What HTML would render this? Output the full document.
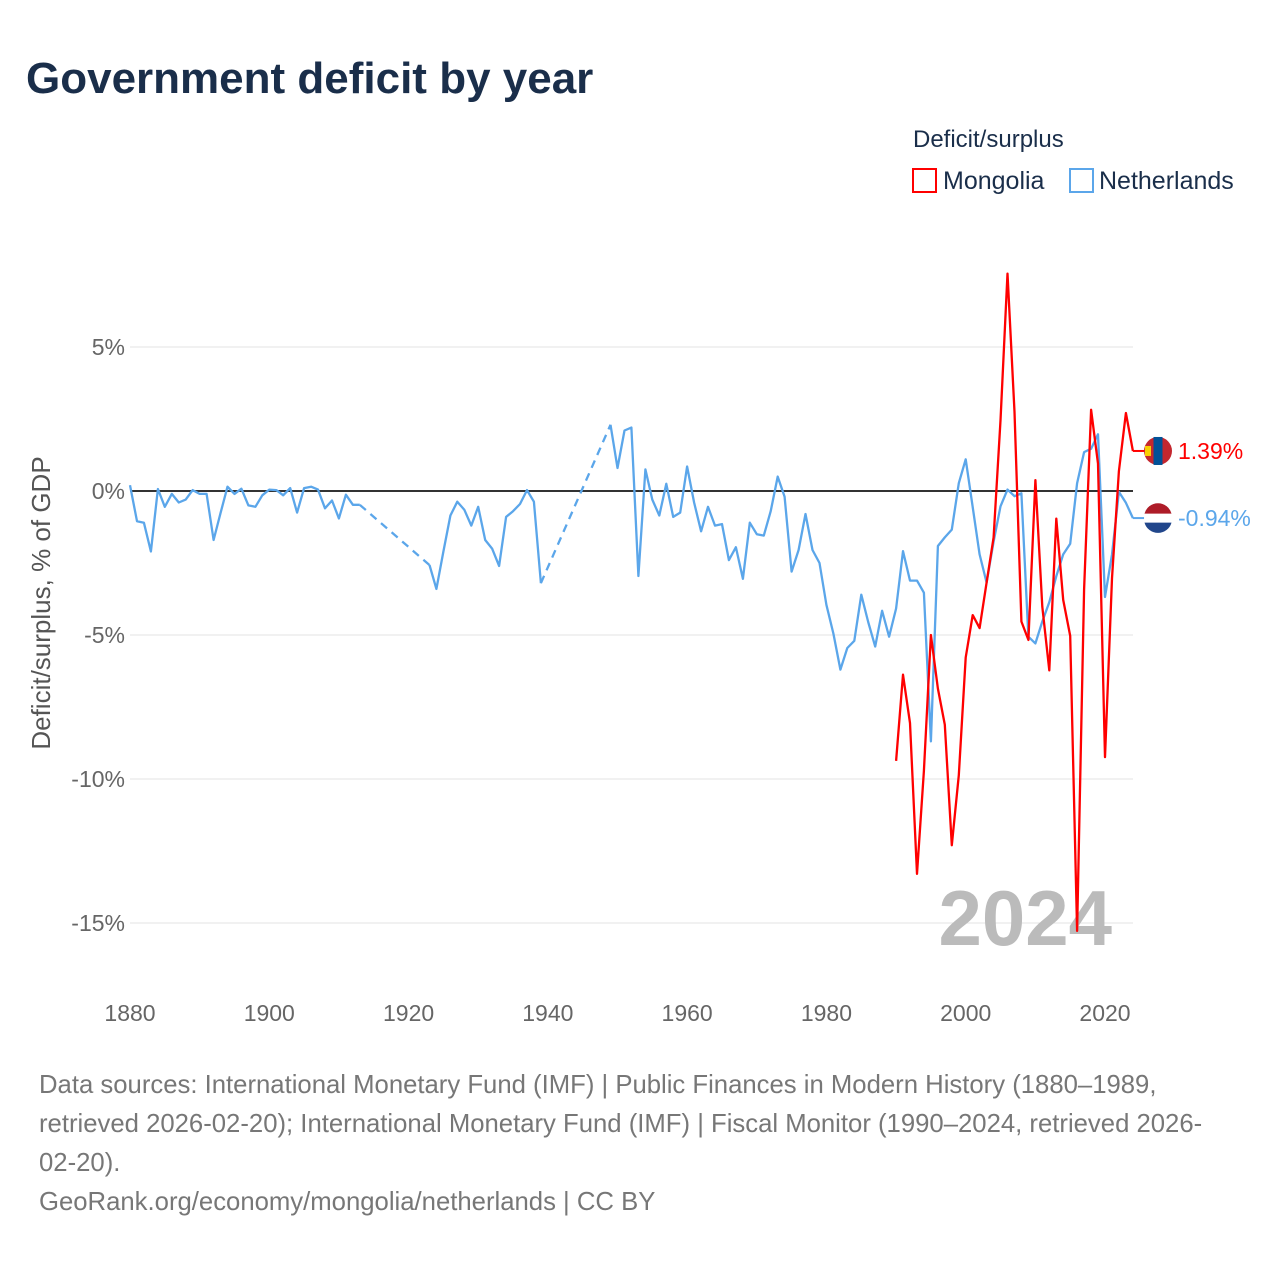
<!DOCTYPE html>
<html><head><meta charset="utf-8"><style>
body{margin:0;background:#fff;font-family:"Liberation Sans",sans-serif;}
svg text{font-family:"Liberation Sans",sans-serif;}
</style></head><body>
<svg id="chart" width="1280" height="1280" viewBox="0 0 1280 1280" xmlns="http://www.w3.org/2000/svg">
<rect width="1280" height="1280" fill="#fff"/>
<text x="26" y="93" font-size="44" font-weight="bold" fill="#1a2e4a">Government deficit by year</text>
<g>
<text x="913" y="147" font-size="24" fill="#1a2e4a">Deficit/surplus</text>
<g><rect x="913" y="169" width="23" height="23" fill="none" stroke="#ff0000" stroke-width="2"/><text x="943" y="189" font-size="25" fill="#1a2e4a">Mongolia</text></g>
<g><rect x="1070" y="169" width="23" height="23" fill="none" stroke="#5ba6ea" stroke-width="2"/><text x="1099" y="189" font-size="25" fill="#1a2e4a">Netherlands</text></g>
</g>
<g id="grid"></g>
<g id="yticks"></g>
<g id="xticks"></g>
<text x="0" y="0" transform="translate(50,603) rotate(-90)" text-anchor="middle" font-size="26" fill="#555">Deficit/surplus, % of GDP</text>
<text x="1112" y="945" text-anchor="end" font-size="78" font-weight="bold" fill="#bbb">2024</text>
<g id="series"></g>
<g id="labels"></g>
<g font-size="25.7" fill="#777">
<text x="39" y="1093">Data sources: International Monetary Fund (IMF) | Public Finances in Modern History (1880–1989,</text>
<text x="39" y="1132">retrieved 2026-02-20); International Monetary Fund (IMF) | Fiscal Monitor (1990–2024, retrieved 2026-</text>
<text x="39" y="1171">02-20).</text>
<text x="39" y="1210">GeoRank.org/economy/mongolia/netherlands | CC BY</text>
</g>
</svg>
<script>
const yTicks=[5,0,-5,-10,-15];
const xTicks=[1880,1900,1920,1940,1960,1980,2000,2020];
const nlStart=1880;
const nlValues=[0.2,-1.05,-1.1,-2.1,0.07,-0.55,-0.1,-0.4,-0.3,0.03,-0.1,-0.1,-1.7,-0.77,0.15,-0.1,0.08,-0.5,-0.55,-0.15,0.05,0.03,-0.15,0.1,-0.75,0.1,0.15,0.05,-0.6,-0.33,-0.95,-0.13,-0.48,-0.48,
null,null,null,null,null,null,null,null,null,-2.57,-3.4,-2.1,-0.85,-0.37,-0.65,-1.2,-0.55,-1.7,-2.0,-2.6,-0.9,-0.7,-0.45,0.03,-0.37,-3.2,
null,null,null,null,null,null,null,null,null,2.3,0.8,2.1,2.2,-2.95,0.75,-0.3,-0.85,0.25,-0.9,-0.75,0.85,-0.4,-1.4,-0.55,-1.2,-1.15,-2.4,-1.95,-3.05,-1.1,-1.5,-1.55,-0.7,0.5,-0.2,-2.8,-2.05,-0.8,-2.05,-2.5,-3.95,-4.95,-6.2,-5.45,-5.2,-3.6,-4.55,-5.4,
-4.16,-5.06,-4.08,-2.09,-3.11,-3.11,-3.53,-8.69,-1.91,-1.61,-1.34,0.27,1.1,-0.56,-2.2,-3.18,-1.76,-0.53,0.05,-0.18,-0.08,-5.06,-5.29,-4.53,-3.86,-2.96,-2.2,-1.83,0.27,1.35,1.47,1.97,-3.68,-2.2,-0.03,-0.41,-0.94];
const mnStart=1990;
const mnValues=[-9.37,-6.38,-8.06,-13.29,-9.72,-5.0,-6.86,-8.11,-12.3,-9.87,-5.78,-4.31,-4.76,-3.18,-1.61,2.45,7.55,2.75,-4.53,-5.17,0.38,-4.02,-6.23,-0.96,-3.78,-5.03,-15.27,-3.41,2.82,0.95,-9.24,-3.03,0.69,2.71,1.39];
const NS='http://www.w3.org/2000/svg';
const X=y=>130+(y-1880)*975/140;
const Y=v=>491-v*28.8;
function mk(tag,attrs,parent){const e=document.createElementNS(NS,tag);for(const k in attrs)e.setAttribute(k,attrs[k]);parent.appendChild(e);return e;}
const grid=document.getElementById('grid'),yt=document.getElementById('yticks'),xt=document.getElementById('xticks');
yTicks.forEach(t=>{
 const l=mk('line',{x1:130,x2:1133,y1:Y(t),y2:Y(t),stroke:t===0?'#333':'#e3e3e3','stroke-width':t===0?2:1},grid);
 
 
 const tx=mk('text',{x:125,y:Y(t)+8,'text-anchor':'end','font-size':23,fill:'#666'},yt);
 tx.textContent=t+'%';
 
 
});
xTicks.forEach(t=>{
 const tx=mk('text',{x:X(t),y:1021,'text-anchor':'middle','font-size':23,fill:'#666'},xt);
 tx.textContent=t;
 
 
});
const ser=document.getElementById('series');
function draw(start,vals,color,name){
 const g=mk('g',{},ser);
 
 
 let seg=[],last=null;
 const flush=()=>{if(seg.length>1)mk('polyline',{points:seg.join(' '),fill:'none',stroke:color,'stroke-width':2.3,'stroke-linejoin':'round'},g);seg=[];};
 vals.forEach((v,i)=>{
  if(v===null){flush();return;}
  const p=[X(start+i),Y(v)];
  if(last&&last.i!==i-1){mk('line',{x1:last.p[0],y1:last.p[1],x2:p[0],y2:p[1],stroke:color,'stroke-width':2.3,'stroke-dasharray':'8,6'},g);}
  seg.push(p[0].toFixed(1)+','+p[1].toFixed(1));
  last={i,p};
 });
 flush();
 return last.p;
}
const nlEnd=draw(nlStart,nlValues,'#5ba6ea','series-netherlands');
const mnEnd=draw(mnStart,mnValues,'#ff0000','series-mongolia');
const lab=document.getElementById('labels');
function endLabel(p,color,val,flag,name){
 const g=mk('g',{},lab);
 
 
 mk('line',{x1:p[0],y1:p[1],x2:1145,y2:p[1],stroke:color,'stroke-width':2},g);
 if(flag==='mn'){
  mk('circle',{cx:1158,cy:p[1],r:14,fill:'#c4272f'},g);
  mk('rect',{x:1153.5,y:p[1]-14,width:9,height:28,fill:'#015197'},g);
  mk('rect',{x:1145,y:p[1]-5,width:6,height:10,fill:'#f9cf02'},g);
 }else{
  mk('circle',{cx:1158,cy:p[1],r:14,fill:'#fff'},g);
  mk('path',{d:`M1144.5,${p[1]-4.5} A14,14 0 0 1 1171.5,${p[1]-4.5} Z`,fill:'#ae1c28'},g);
  mk('path',{d:`M1144.5,${p[1]+4.5} A14,14 0 0 0 1171.5,${p[1]+4.5} Z`,fill:'#21468b'},g);
 }
 const t=mk('text',{x:1178,y:p[1]+8,'font-size':23,fill:color},g);
 t.textContent=val;
}
endLabel(mnEnd,'#ff0000',mnValues[mnValues.length-1].toFixed(2)+'%','mn','label-mongolia');
endLabel(nlEnd,'#5ba6ea',nlValues[nlValues.length-1].toFixed(2)+'%','nl','label-netherlands');
</script>
</body></html>
